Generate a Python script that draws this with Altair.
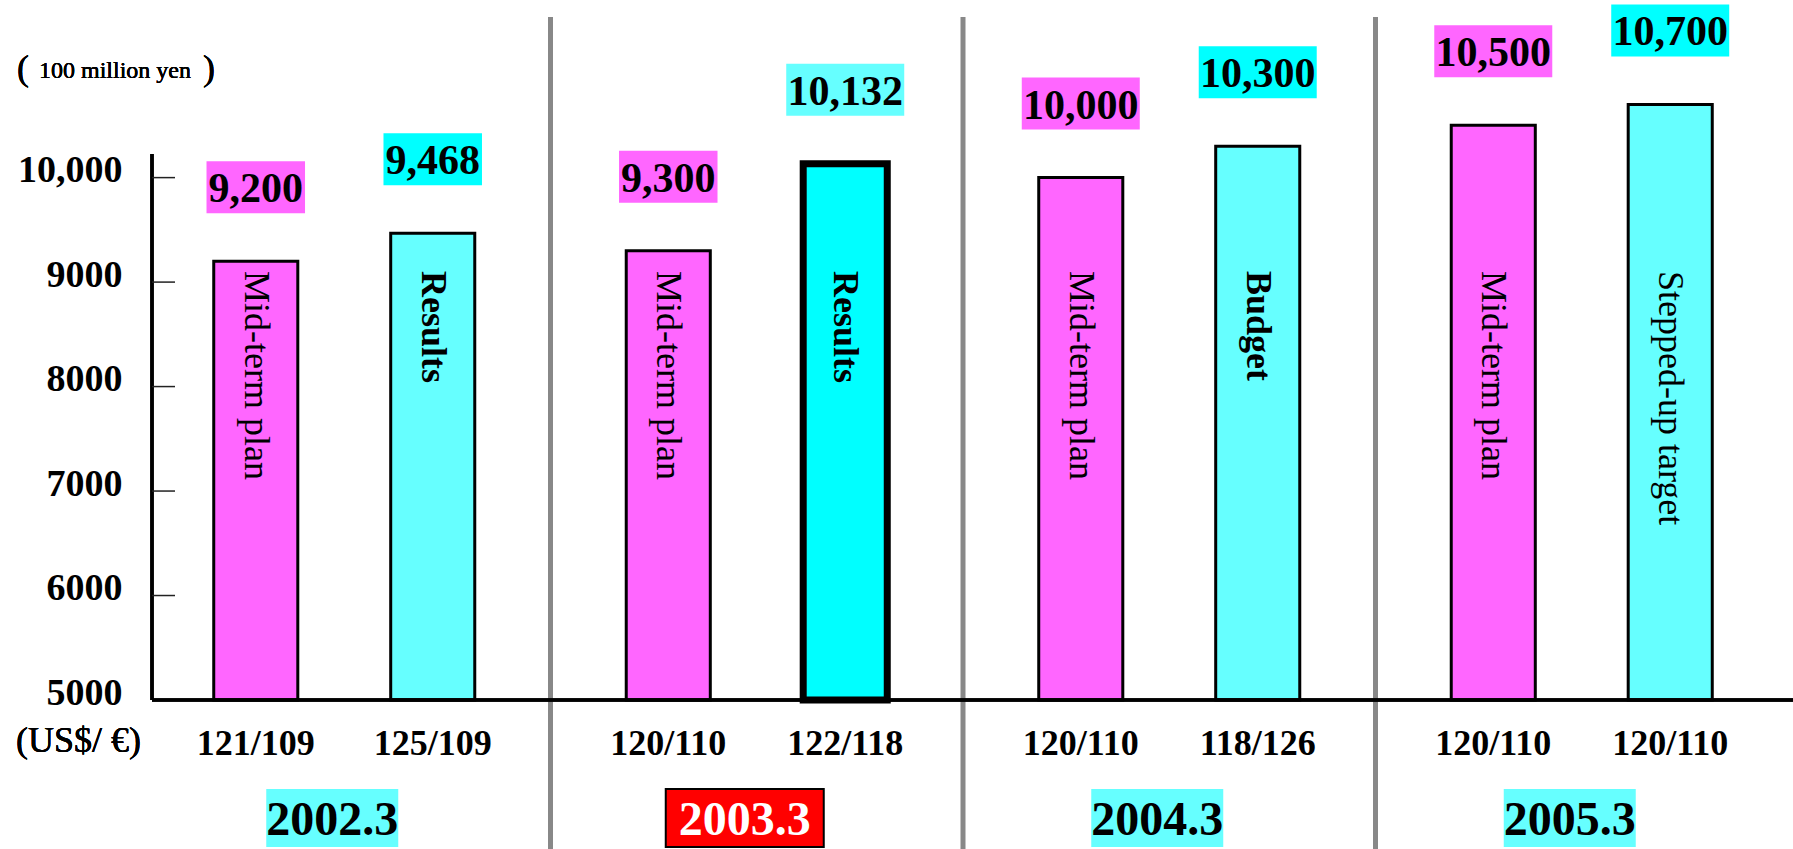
import altair as alt
import pandas as pd

# Fiscal periods and the two bars shown in each period
years = ["2002.3", "2003.3", "2004.3", "2005.3"]
plan_values = [9200, 9300, 10000, 10500]
second_values = [9468, 10132, 10300, 10700]
second_names = ["Results", "Results", "Budget", "Stepped-up target"]
plan_rates = ["121/109", "120/110", "120/110", "120/110"]
second_rates = ["125/109", "122/118", "118/126", "120/110"]
y_ticks = [5000, 6000, 7000, 8000, 9000, 10000]
current_year = "2003.3"

rows = []
for i, yr in enumerate(years):
    rows.append(dict(year=yr, slot="a", name="Mid-term plan",
                     value=plan_values[i], rate=plan_rates[i]))
    rows.append(dict(year=yr, slot="b", name=second_names[i],
                     value=second_values[i], rate=second_rates[i]))
df = pd.DataFrame(rows)
df["label"] = df["value"].map(lambda v: f"{v:,}")
df["current"] = (df["year"] == current_year) & (df["slot"] == "b")

year_df = pd.DataFrame({"year": years})
sep_df = pd.DataFrame({"year": years[1:]})
tick_df = pd.DataFrame({"tick": [t for t in y_ticks if t > 5000]})

SERIF = "Liberation Serif"
W, H = 1641, 700

x_scale = alt.Scale(domain=years, range=[-14, 1636], paddingInner=0, paddingOuter=0)
X = alt.X("year:N", scale=x_scale, axis=None)
XO = alt.XOffset("slot:N", scale=alt.Scale(domain=["a", "b"], paddingInner=0.525, paddingOuter=0.428))
y_scale = alt.Scale(domain=[5000, 11700], zero=False, nice=False)

# one y-axis definition shared by every layer that uses the y scale
Y_AXIS = alt.Axis(
    values=y_ticks,
    labelExpr="datum.value == 10000 ? '10,000' : '' + datum.value",
    ticks=False, domain=False, grid=False, title=None,
    labelPadding=30, labelFont=SERIF, labelFontSize=38, labelOffset=-7,
    labelFontWeight="bold", labelColor="black", labelBaseline="middle")
Y = alt.Y("value:Q", scale=y_scale, axis=Y_AXIS)

base = alt.Chart(df)

bars = base.mark_bar(stroke="black").encode(
    x=X, xOffset=XO, y=Y,
    y2=alt.datum(5000),
    fill=alt.condition("datum.current", alt.value("#00FFFF"),
                       alt.Fill("slot:N", scale=alt.Scale(domain=["a", "b"], range=["#FF66FF", "#66FFFF"]), legend=None)),
    strokeWidth=alt.condition("datum.current", alt.value(7), alt.value(3)),
)

# names written down the inside of each bar
bar_text_regular = base.transform_filter(
    "datum.name == 'Mid-term plan' || datum.name == 'Stepped-up target'"
).mark_text(angle=90, align="left", baseline="middle", font=SERIF, fontSize=36, color="black").encode(
    x=X, xOffset=XO, y=alt.value(271), text="name:N")
bar_text_bold = base.transform_filter(
    "datum.name == 'Results' || datum.name == 'Budget'"
).mark_text(angle=90, align="left", baseline="middle", font=SERIF, fontSize=36,
            fontWeight="bold", color="black").encode(
    x=X, xOffset=XO, y=alt.value(271), text="name:N")

# value labels on coloured boxes above the bars
value_boxes = base.transform_calculate(
    bw="length(datum.label) * 19.5 + 1",
    boxfill="datum.slot == 'a' ? '#FF66FF' : (datum.current ? '#66FFFF' : '#00FFFF')",
).mark_bar(yOffset=-100, y2Offset=-48).encode(
    x=X, xOffset=XO, y=Y, y2="value:Q",
    size=alt.Size("bw:Q", scale=None, legend=None),
    fill=alt.Fill("boxfill:N", scale=None, legend=None),
)
value_text = base.mark_text(font=SERIF, fontSize=42, fontWeight="bold", baseline="alphabetic",
                            dy=-59, color="black").encode(
    x=X, xOffset=XO, y=Y, text="label:N")

# exchange-rate row
rate_text = base.mark_text(font=SERIF, fontSize=36, fontWeight="bold", baseline="alphabetic",
                           color="black").encode(
    x=X, xOffset=XO, y=alt.value(755), text="rate:N")

# period labels
is_current = f"datum.year == '{current_year}'"
year_boxes = alt.Chart(year_df).mark_bar(stroke="black", xOffset=-12).encode(
    x=X, y=alt.value(789), y2=alt.value(847),
    size=alt.condition(is_current, alt.value(158), alt.value(132)),
    fill=alt.condition(is_current, alt.value("#FF0000"), alt.value("#66FFFF")),
    strokeWidth=alt.condition(is_current, alt.value(2), alt.value(0)),
)
year_text = alt.Chart(year_df).mark_text(font=SERIF, fontSize=48, fontWeight="bold",
                                         baseline="alphabetic", dx=-12).encode(
    x=X, y=alt.value(835), text="year:N",
    color=alt.condition(is_current, alt.value("white"), alt.value("black")),
)

# grey dividers between periods
separators = alt.Chart(sep_df).mark_rule(color="#888888", strokeWidth=5).encode(
    x=alt.X("year:N", bandPosition=0, scale=x_scale, axis=None),
    y=alt.value(17), y2=alt.value(849))

# axis lines and inward ticks
baseline = alt.Chart(year_df).mark_rule(color="black", strokeWidth=3).encode(
    x=alt.value(0), x2=alt.value(W), y=alt.value(H))
y_line = alt.Chart(year_df).mark_rule(color="black", strokeWidth=3).encode(
    x=alt.value(0), y=alt.value(154), y2=alt.value(H))
ticks = alt.Chart(tick_df).mark_rule(color="#222222", strokeWidth=1.5).encode(
    x=alt.value(0), x2=alt.value(23), y=alt.Y("tick:Q", scale=y_scale, axis=Y_AXIS))

# unit captions
unit_open = alt.Chart(year_df).mark_text(text="(", font=SERIF, fontSize=36, align="left",
                                         baseline="alphabetic", color="black").encode(
    x=alt.value(-135), y=alt.value(80))
unit_text = alt.Chart(year_df).mark_text(text="100 million yen", font=SERIF, fontSize=24, align="left",
                                         baseline="alphabetic", color="black").encode(
    x=alt.value(-113), y=alt.value(78))
unit_close = alt.Chart(year_df).mark_text(text=")", font=SERIF, fontSize=36, align="left",
                                          baseline="alphabetic", color="black").encode(
    x=alt.value(51), y=alt.value(80))
rate_caption = alt.Chart(year_df).mark_text(text="(US$/ \u20ac)", font=SERIF, fontSize=36, align="left",
                                            baseline="alphabetic", color="black").encode(
    x=alt.value(-136), y=alt.value(752))

chart = alt.layer(
    separators, bars, baseline, y_line, ticks,
    bar_text_regular, bar_text_bold, value_boxes, value_text,
    rate_text, year_boxes, year_text,
    unit_open, unit_text, unit_close, rate_caption,
).properties(
    width=W, height=H,
    padding={"left": 152, "top": 0, "right": 0, "bottom": 149},
    autosize="none",
    background="white",
).configure_view(strokeWidth=0)

chart.save("out.html", embed_options={"renderer": "svg", "actions": False})
